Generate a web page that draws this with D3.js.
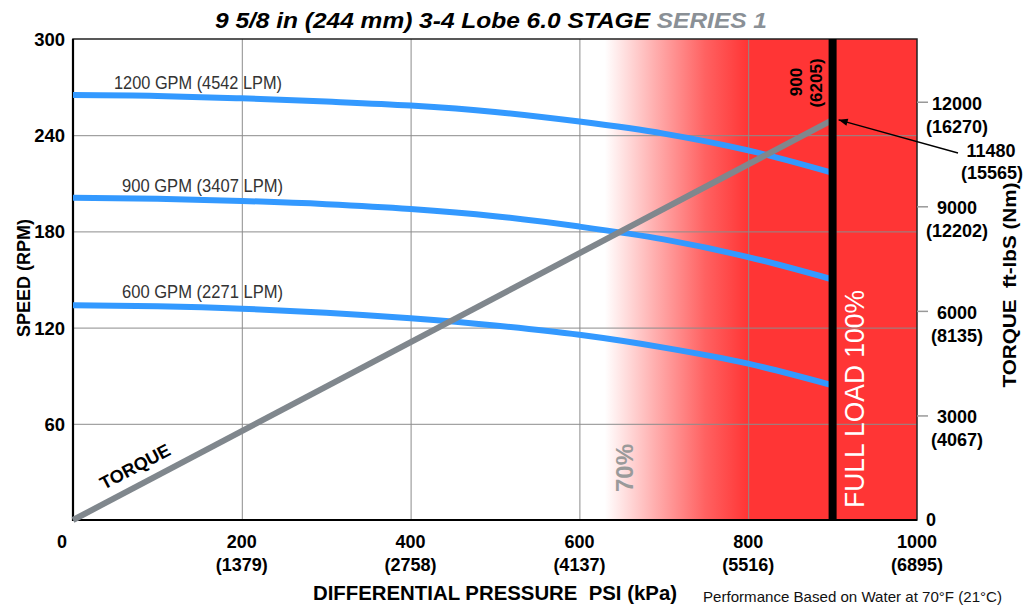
<!DOCTYPE html>
<html>
<head>
<meta charset="utf-8">
<script src="https://d3js.org/d3.v7.min.js"></script>
<style>
  body { margin: 0; background: #fff; }
  text { font-family: "Liberation Sans", Arial, sans-serif; white-space: pre; }
</style>
</head>
<body>
<div id="chart"></div>
<script>
const pressure = [0, 100, 200, 300, 400, 500, 600, 700, 800, 900];
const speed1200 = [265, 264.5, 263, 261, 258.5, 254.5, 248.5, 241, 230.5, 216.5];
const speed900 = [201, 200.3, 199, 197, 194, 189.5, 183, 175, 164, 150];
const speed600 = [134, 133.3, 131.8, 129.3, 125.8, 121.3, 115.5, 107.5, 97.5, 84];
const torqueEnd = [0, 11480];
const torquePsi = [0, 900];

const xTicks = [0, 200, 400, 600, 800, 1000];
const xKpa = ['', '(1379)', '(2758)', '(4137)', '(5516)', '(6895)'];
const yTicks = [60, 120, 180, 240, 300];
const tqTicks = [0, 3000, 6000, 9000, 12000];
const tqNm = ['', '(4067)', '(8135)', '(12202)', '(16270)'];

const W = 1027, H = 609;
const pL = 73, pR = 917, pT = 39, pB = 520;

const svg = d3.select('#chart').append('svg').attr('width', W).attr('height', H);

const x = d3.scaleLinear().domain([0, 1000]).range([pL, pR]);
const y = d3.scaleLinear().domain([0, 300]).range([pB, pT]);
const yT = d3.scaleLinear().domain([0, 13800]).range([pB, pT]);

// red overload zone with fade
const defs = svg.append('defs');
const grad = defs.append('linearGradient').attr('id', 'fade')
    .attr('gradientUnits', 'userSpaceOnUse')
    .attr('x1', x(630)).attr('x2', x(800)).attr('y1', 0).attr('y2', 0);
grad.append('stop').attr('offset', 0).attr('stop-color', '#ff3535').attr('stop-opacity', 0);
grad.append('stop').attr('offset', 0.35).attr('stop-color', '#ff3535').attr('stop-opacity', 0.4);
grad.append('stop').attr('offset', 0.7).attr('stop-color', '#ff3535').attr('stop-opacity', 0.78);
grad.append('stop').attr('offset', 1).attr('stop-color', '#ff3535').attr('stop-opacity', 1);

svg.append('rect').attr('x', x(630)).attr('y', pT)
    .attr('width', x(1000) - x(630)).attr('height', pB - pT)
    .attr('fill', 'url(#fade)');

// grid
svg.append('g')
    .attr('transform', `translate(0,${pB})`)
    .call(d3.axisBottom(x).tickValues([200, 400, 600, 800]).tickSize(-(pB - pT)).tickFormat(''))
    .call(g => g.select('.domain').remove())
    .call(g => g.selectAll('line').attr('stroke', '#8c8c8c').attr('stroke-width', 1));
svg.append('g')
    .attr('transform', `translate(${pL},0)`)
    .call(d3.axisLeft(y).tickValues([60, 120, 180, 240]).tickSize(-(pR - pL)).tickFormat(''))
    .call(g => g.select('.domain').remove())
    .call(g => g.selectAll('line').attr('stroke', '#8c8c8c').attr('stroke-width', 1));

// frame
svg.append('rect').attr('x', pL).attr('y', pT).attr('width', pR - pL).attr('height', pB - pT)
    .attr('fill', 'none').attr('stroke', '#222').attr('stroke-width', 1.5);
svg.append('path').attr('d', `M${pL},${pT}V${pB}H${pR}`)
    .attr('fill', 'none').attr('stroke', '#000').attr('stroke-width', 2.2);

// speed curves
const line = d3.line().x((d, i) => x(pressure[i])).y(d => y(d)).curve(d3.curveMonotoneX);
[speed1200, speed900, speed600].forEach(s => {
    svg.append('path').attr('d', line(s))
        .attr('fill', 'none').attr('stroke', '#3399ff').attr('stroke-width', 6);
});

// torque line
svg.append('line')
    .attr('x1', x(torquePsi[0])).attr('y1', yT(torqueEnd[0]))
    .attr('x2', x(torquePsi[1])).attr('y2', yT(torqueEnd[1]))
    .attr('stroke', '#80878d').attr('stroke-width', 6);

// full load bar
svg.append('rect').attr('x', x(900) - 4).attr('y', pT).attr('width', 8).attr('height', pB - pT).attr('fill', '#000');

// curve labels
const gpmLabels = [
    { t: '1200 GPM (4542 LPM)', x: 114, y: 89, w: 168 },
    { t: '900 GPM (3407 LPM)', x: 122, y: 192, w: 161 },
    { t: '600 GPM (2271 LPM)', x: 122, y: 298, w: 161 }
];
gpmLabels.forEach(l => {
    svg.append('text').attr('x', l.x).attr('y', l.y).attr('font-size', 18)
        .attr('fill', '#333').attr('textLength', l.w)
        .attr('lengthAdjust', 'spacingAndGlyphs').text(l.t);
});

// title
const title = svg.append('text').attr('x', 215).attr('y', 28)
    .attr('font-size', 22).attr('font-weight', 'bold').attr('font-style', 'italic')
    .attr('textLength', 552).attr('lengthAdjust', 'spacingAndGlyphs');
title.append('tspan').attr('fill', '#000').text('9 5/8 in (244 mm) 3-4 Lobe 6.0 STAGE ');
title.append('tspan').attr('fill', '#8a9096').text('SERIES 1');

// left axis labels
svg.selectAll('.ylab').data(yTicks).enter().append('text')
    .attr('x', 65).attr('y', d => y(d) + 7).attr('text-anchor', 'end')
    .attr('font-size', 18.5).attr('font-weight', 'bold').text(d => d);

svg.append('text').attr('transform', 'translate(30,278) rotate(-90)')
    .attr('text-anchor', 'middle').attr('font-size', 18).attr('font-weight', 'bold')
    .text('SPEED (RPM)');

// bottom axis labels
xTicks.forEach((v, i) => {
    svg.append('text').attr('x', v === 0 ? x(v) - 11 : x(v)).attr('y', 548)
        .attr('text-anchor', 'middle').attr('font-size', 18).attr('font-weight', 'bold').text(v);
    if (xKpa[i]) {
        svg.append('text').attr('x', x(v)).attr('y', 571)
            .attr('text-anchor', 'middle').attr('font-size', 18).attr('font-weight', 'bold').text(xKpa[i]);
    }
});
svg.append('text').attr('x', 313).attr('y', 600)
    .attr('font-size', 20).attr('font-weight', 'bold')
    .attr('textLength', 364).attr('lengthAdjust', 'spacingAndGlyphs')
    .text('DIFFERENTIAL PRESSURE  PSI (kPa)');
svg.append('text').attr('x', 703).attr('y', 602)
    .attr('font-size', 14.5).attr('fill', '#111')
    .attr('textLength', 299).attr('lengthAdjust', 'spacingAndGlyphs')
    .text('Performance Based on Water at 70°F (21°C)');

// right axis
svg.append('g')
    .attr('transform', `translate(${pR},0)`)
    .call(d3.axisRight(yT).tickValues(tqTicks.slice(1)).tickSize(11).tickFormat(''))
    .call(g => g.select('.domain').remove())
    .call(g => g.selectAll('line').attr('stroke', '#999').attr('stroke-width', 1.5));
tqTicks.forEach((v, i) => {
    if (v === 0) {
        svg.append('text').attr('x', 926).attr('y', yT(0) + 6)
            .attr('font-size', 18).attr('font-weight', 'bold').text('0');
        return;
    }
    svg.append('text').attr('x', 957).attr('y', yT(v) + 8)
        .attr('text-anchor', 'middle').attr('font-size', 18).attr('font-weight', 'bold').text(v);
    svg.append('text').attr('x', 957).attr('y', yT(v) + 31)
        .attr('text-anchor', 'middle').attr('font-size', 18).attr('font-weight', 'bold').text(tqNm[i]);
});
svg.append('text').attr('transform', 'translate(1016,285) rotate(-90)')
    .attr('text-anchor', 'middle').attr('font-size', 19).attr('font-weight', 'bold')
    .attr('textLength', 205).attr('lengthAdjust', 'spacingAndGlyphs')
    .text('TORQUE  ft-lbS (Nm)');

// annotations
svg.append('text').attr('transform', `translate(${x(900) - 31},82) rotate(-90)`)
    .attr('text-anchor', 'middle').attr('font-size', 17).attr('font-weight', 'bold').text('900');
svg.append('text').attr('transform', `translate(${x(900) - 11},83) rotate(-90)`)
    .attr('text-anchor', 'middle').attr('font-size', 17).attr('font-weight', 'bold').text('(6205)');

defs.append('marker').attr('id', 'arr').attr('viewBox', '0 0 10 10').attr('refX', 10).attr('refY', 5)
    .attr('markerWidth', 9).attr('markerHeight', 7).attr('orient', 'auto')
    .append('path').attr('d', 'M0,1L10,5L0,9z').attr('fill', '#000');
svg.append('line').attr('x1', 958).attr('y1', 153).attr('x2', x(900) + 6).attr('y2', yT(11480))
    .attr('stroke', '#000').attr('stroke-width', 1.3).attr('marker-end', 'url(#arr)');
svg.append('text').attr('x', 991).attr('y', 157).attr('text-anchor', 'middle')
    .attr('font-size', 18).attr('font-weight', 'bold').text('11480');
svg.append('text').attr('x', 992).attr('y', 179).attr('text-anchor', 'middle')
    .attr('font-size', 18).attr('font-weight', 'bold').text('(15565)');

svg.append('text').attr('transform', `translate(${x(900) + 31},399) rotate(-90)`)
    .attr('text-anchor', 'middle').attr('font-size', 27).attr('fill', '#fff')
    .attr('textLength', 218).attr('lengthAdjust', 'spacingAndGlyphs')
    .text('FULL LOAD 100%');

svg.append('text').attr('transform', `translate(${x(630) + 28},468) rotate(-90)`)
    .attr('text-anchor', 'middle').attr('font-size', 24).attr('font-weight', 'bold')
    .attr('fill', '#9a9a9a').text('70%');

svg.append('text').attr('transform', 'translate(138,472) rotate(-27.8)')
    .attr('text-anchor', 'middle').attr('font-size', 18).attr('font-weight', 'bold')
    .text('TORQUE');
</script>
</body>
</html>
